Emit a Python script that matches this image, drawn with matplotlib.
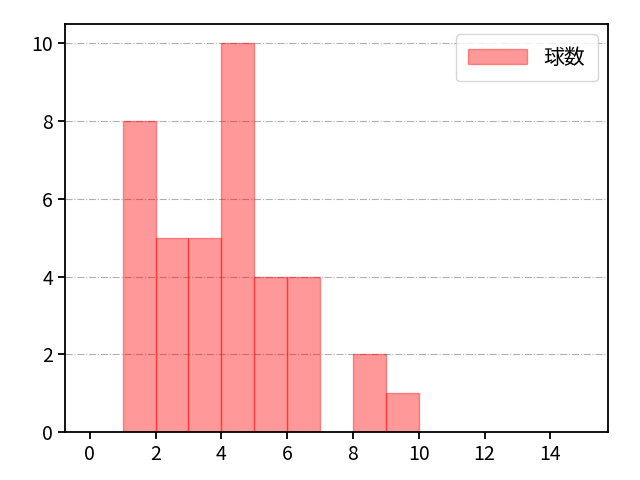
import matplotlib.pyplot as plt
import numpy as np

plt.rcParams['font.family'] = ['Noto Sans CJK JP', 'DejaVu Sans']

bin_edges = np.arange(0, 16)
counts = np.array([0, 8, 5, 5, 10, 4, 4, 0, 2, 1, 0, 0, 0, 0, 0])
label = '球数'

fig = plt.figure(figsize=(6.4, 4.8), dpi=100)
ax = fig.add_axes([0.1016, 0.1, 0.8484, 0.85])
mask = counts > 0
ax.bar(bin_edges[:-1][mask], counts[mask], width=1, align='edge', color='red',
       alpha=0.4, edgecolor='red', linewidth=1, label=label)
ax.set_xlim(-0.75, 15.75)
ax.set_ylim(0, 10.5)
ax.set_xticks(np.arange(0, 16, 2))
ax.yaxis.grid(True, linestyle='-.', color='#b0b0b0', linewidth=0.8)
ax.set_axisbelow(True)
for s in ax.spines.values():
    s.set_linewidth(1.3)
ax.tick_params(labelsize=14, width=1.3, length=5)
ax.legend(loc='upper right', fontsize=15, handlelength=2.8, borderpad=0.6)
fig.savefig('out.png', dpi=100)
